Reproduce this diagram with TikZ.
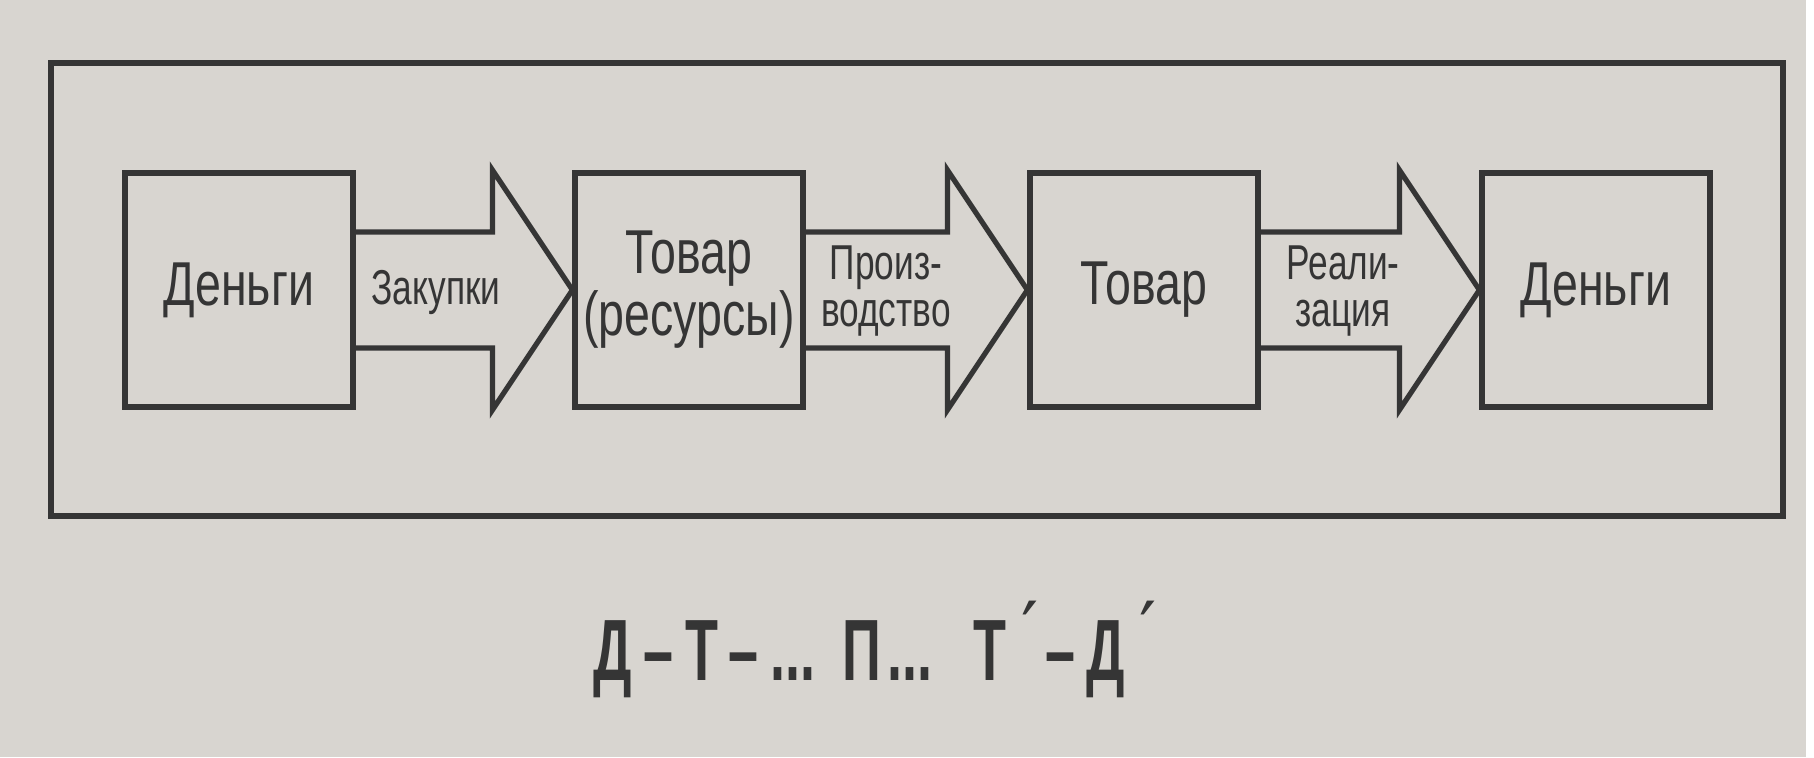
\documentclass[tikz,border=0pt]{standalone}
\usepackage{fontspec}
\setmainfont{Liberation Sans}
\newfontfamily\lblfont[FakeStretch=0.72]{Liberation Sans}
\newfontfamily\bigfont[FakeStretch=0.75]{Liberation Sans}
\newfontfamily\frmfont[FakeStretch=0.62]{Liberation Sans Bold}
\newfontfamily\primefont{DejaVu Sans}
\usetikzlibrary{calc}
\definecolor{bgc}{HTML}{D8D5D0}
\definecolor{ink}{HTML}{353535}
\tikzset{
  box/.style={draw=ink, line width=2.6pt, minimum width=114pt, minimum height=117pt,
    inner sep=0pt, text=ink, align=center,
    font=\bigfont\fontsize{31}{31}\selectfont},
  blk/.style={draw=ink, line width=2.6pt, line join=miter},
  lbl/.style={text=ink, align=center, inner sep=0pt,
    font=\lblfont\fontsize{24.5}{23.5}\selectfont},
  frm/.style={text=ink, anchor=base, inner sep=0pt,
    font=\frmfont\fontsize{43.5}{43.5}\selectfont},
  prm/.style={text=ink, anchor=base, inner sep=0pt,
    font=\primefont\fontsize{38}{38}\selectfont},
  frame/.style={draw=ink, line width=2.6pt}
}
\begin{document}
\begin{tikzpicture}[x=0.5pt,y=-0.5pt]
\useasboundingbox (0,0) rectangle (1814,757);
\fill[bgc] (0,0) rectangle (1814,757);
\fill[white] (1806,0) rectangle (1814,757);
\draw[frame] (51,63) rectangle (1783,516);

\node[box] (b1) at (239,290) {Деньги};
\node[box] (b2) at (689,290) {Товар\\(ресурсы)};
\node[box] (b3) at (1144,290) {Товар};
\node[box] (b4) at (1596,290) {Деньги};

\draw[blk] ($(b1.east)+(0,-58)$) -- ($(b2.west)+(-80,-58)$) -- ($(b2.west)+(-80,-120)$)
  -- (b2.west) -- ($(b2.west)+(-80,120)$) -- ($(b2.west)+(-80,58)$) -- ($(b1.east)+(0,58)$);
\draw[blk] ($(b2.east)+(0,-58)$) -- ($(b3.west)+(-80,-58)$) -- ($(b3.west)+(-80,-120)$)
  -- (b3.west) -- ($(b3.west)+(-80,120)$) -- ($(b3.west)+(-80,58)$) -- ($(b2.east)+(0,58)$);
\draw[blk] ($(b3.east)+(0,-58)$) -- ($(b4.west)+(-80,-58)$) -- ($(b4.west)+(-80,-120)$)
  -- (b4.west) -- ($(b4.west)+(-80,120)$) -- ($(b4.west)+(-80,58)$) -- ($(b3.east)+(0,58)$);

\node[lbl] (l1) at (436,292) {Закупки};
\node[lbl] (l2) at (886,291) {Произ-\\водство};
\node[lbl] (l3) at (1343,291) {Реали-\\зация};

\node[frm] (f1) at (613,680) {Д};
\node[frm] (f2) at (658,680) {–};
\node[frm] (f3) at (702,680) {Т};
\node[frm] (f4) at (743,680) {–};
\node[frm] (f5) at (793,680) {...};
\node[frm] (f6) at (862,680) {П};
\node[frm] (f7) at (910,680) {...};
\node[frm] (f8) at (990,680) {Т};
\node[prm] (p1) at (1030,656) {′};
\node[frm] (f9) at (1060,680) {–};
\node[frm] (f10) at (1106,680) {Д};
\node[prm] (p2) at (1148,656) {′};
\end{tikzpicture}
\end{document}
